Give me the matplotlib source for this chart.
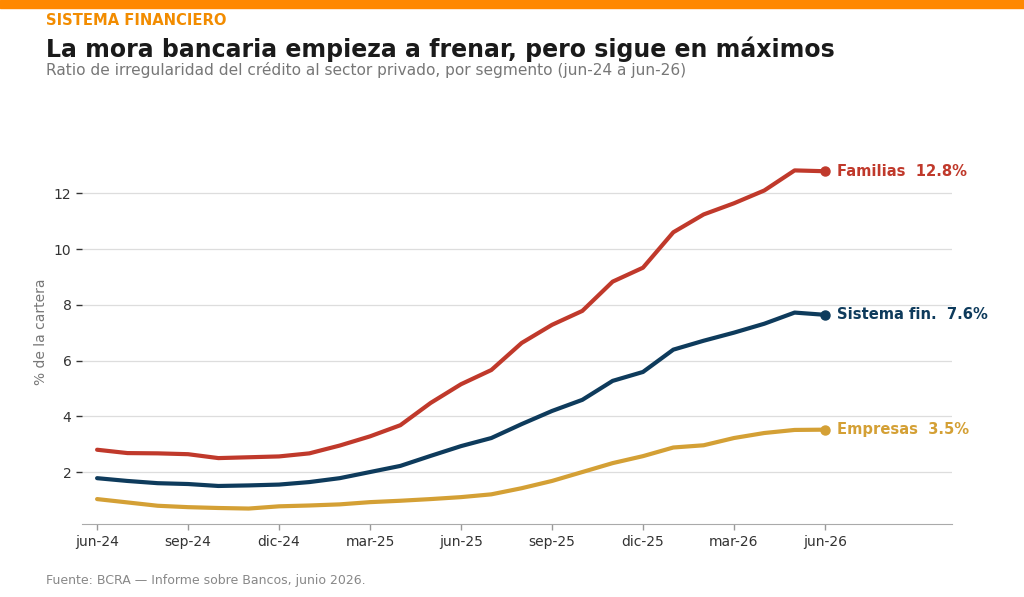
import matplotlib.pyplot as plt

## Data (monthly, jun-24 to jun-26)
months = ['jun-24', 'jul-24', 'ago-24', 'sep-24', 'oct-24', 'nov-24', 'dic-24',
          'ene-25', 'feb-25', 'mar-25', 'abr-25', 'may-25', 'jun-25', 'jul-25',
          'ago-25', 'sep-25', 'oct-25', 'nov-25', 'dic-25', 'ene-26', 'feb-26',
          'mar-26', 'abr-26', 'may-26', 'jun-26']
familias = [2.8, 2.68, 2.67, 2.64, 2.5, 2.53, 2.56, 2.67, 2.95, 3.28, 3.68, 4.48,
            5.15, 5.66, 6.63, 7.28, 7.78, 8.83, 9.33, 10.6, 11.24, 11.64, 12.1,
            12.82, 12.79]
sistema = [1.78, 1.68, 1.6, 1.57, 1.5, 1.52, 1.55, 1.64, 1.78, 2.0, 2.22, 2.58,
           2.93, 3.22, 3.72, 4.19, 4.59, 5.27, 5.59, 6.39, 6.71, 7.0, 7.32, 7.72,
           7.64]
empresas = [1.03, 0.91, 0.79, 0.74, 0.71, 0.69, 0.77, 0.8, 0.84, 0.92, 0.97, 1.03,
            1.1, 1.2, 1.42, 1.68, 2.0, 2.32, 2.57, 2.88, 2.96, 3.22, 3.4, 3.51,
            3.52]
labels = ['Familias', 'Sistema fin.', 'Empresas']
colors = ['#C0392B', '#0E3B5C', '#D4A035']

x = list(range(len(months)))

fig = plt.figure(figsize=(10.24, 5.97), dpi=100)
ax = fig.add_axes([0.080, 0.122, 0.850, 0.643])

for serie, lab, col in zip([familias, sistema, empresas], labels, colors):
    ax.plot(x, serie, color=col, lw=3, solid_capstyle='round', zorder=3)
    ax.plot(x[-1], serie[-1], 'o', color=col, ms=6.5, zorder=4)
    ax.annotate(f'{lab}  {serie[-1]:.1f}%', (x[-1], serie[-1]),
                xytext=(9, 0), textcoords='offset points', va='center',
                color=col, fontsize=10.6, fontweight='bold')

ax.set_xlim(-0.5, 28.2)
ax.set_ylim(0.13, 13.9)
ax.set_xticks(x[::3])
ax.set_xticklabels(months[::3])
ax.set_yticks([2, 4, 6, 8, 10, 12])
ax.grid(axis='y', color='#dddddd', lw=0.9, zorder=0)
ax.tick_params(axis='both', labelsize=10, length=4, width=1)
ax.tick_params(axis='x', colors='#999999', labelcolor='#333333')
ax.tick_params(axis='y', colors='#333333')
for s in ['top', 'right', 'left']:
    ax.spines[s].set_visible(False)
ax.spines['bottom'].set_color('#aaaaaa')
ax.set_ylabel('% de la cartera', color='#777777', fontsize=10, labelpad=4)

## Header and footer
fig.patches.append(plt.Rectangle((0, 1 - 8 / 597), 1, 8 / 597,
                                 transform=fig.transFigure, color='#FF8800'))
fig.text(0.045, 0.965, 'SISTEMA FINANCIERO', color='#F28C00', fontsize=10.6,
         fontweight='bold', va='center')
fig.text(0.045, 0.918, 'La mora bancaria empieza a frenar, pero sigue en máximos',
         color='#1a1a1a', fontsize=17, fontweight='bold', va='center')
fig.text(0.045, 0.882, 'Ratio de irregularidad del crédito al sector privado, por segmento (jun-24 a jun-26)',
         color='#777777', fontsize=11.1, va='center')
fig.text(0.045, 0.028, 'Fuente: BCRA — Informe sobre Bancos, junio 2026.',
         color='#888888', fontsize=9, va='center')

plt.savefig('out.png', dpi=100)
